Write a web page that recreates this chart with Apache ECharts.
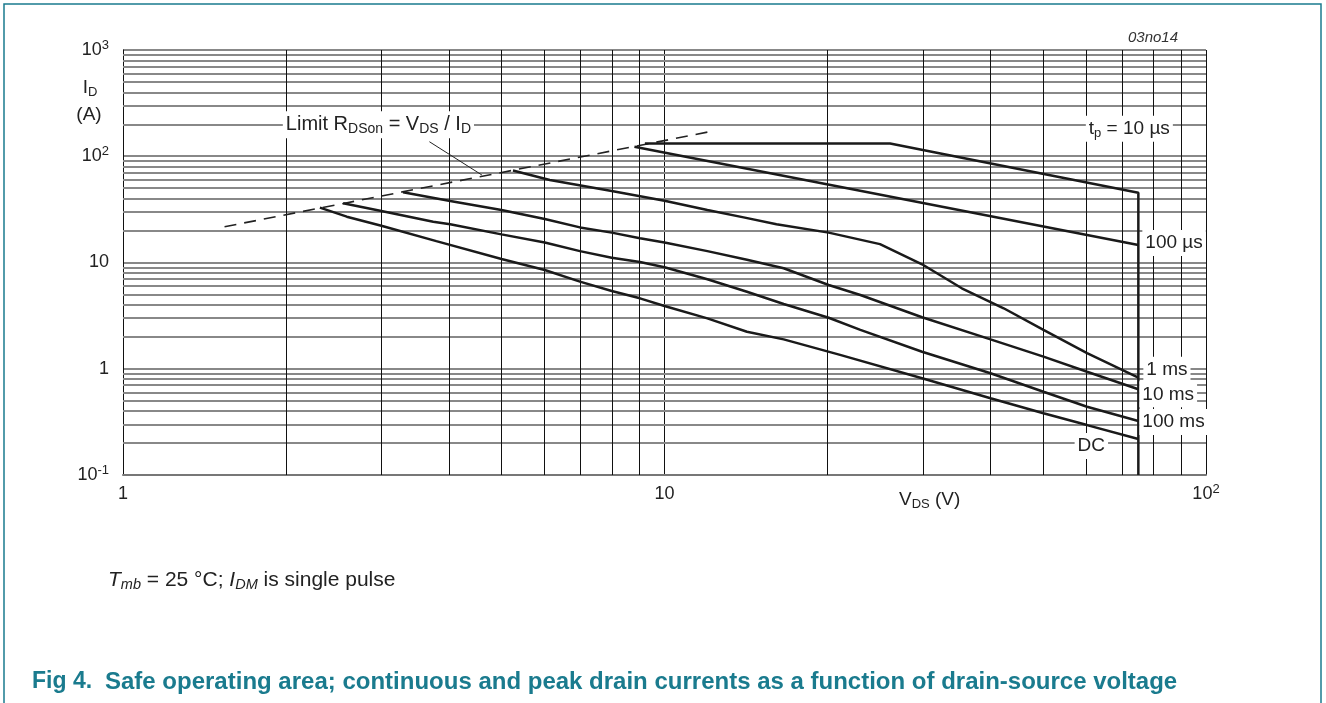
<!DOCTYPE html>
<html><head><meta charset="utf-8">
<script src="https://cdn.jsdelivr.net/npm/echarts@6/dist/echarts.min.js"></script>
<style>html,body{margin:0;padding:0;background:#fff;}#chart{width:1326px;height:703px;}</style>
</head><body><div id="chart"></div>
<script>
// ---- data (V_DS in V, I_D in A) ----
const limitLine = [[1.54, 21.7], [12.1, 170]];
const leaderLine = [[3.68, 137], [4.6, 66.6]];
const tp10us = [[9.2, 132], [26.1, 132], [75, 45.4], [75, 0.1]];
const tp100us = [[8.8, 123], [75, 14.6]];
const tp1ms = [[5.25,73.4],[6.14,59.8],[7.99,47.1],[10.0,38.2],[12.0,31.2],[14.0,26.6],[16.1,22.9],[20.1,19.1],[25.0,14.9],[29.9,9.62],[35.4,5.72],[42.3,3.71],[50.1,2.32],[60.3,1.40],[75,0.824]];
const tp10ms = [[3.29,45.8],[4.02,37.9],[5.00,31.2],[6.01,25.7],[6.98,21.4],[7.99,19.1],[9.01,16.9],[10.0,15.4],[12.0,12.8],[14.2,10.6],[16.6,8.82],[20.1,6.14],[23.0,4.94],[29.9,3.05],[40.0,1.89],[50.1,1.30],[60.3,0.938],[75,0.641]];
const tp100ms = [[2.55,36.1],[3.00,30.5],[3.74,24.2],[4.02,22.9],[5.00,18.4],[6.01,15.4],[6.98,12.8],[7.99,11.1],[9.01,10.1],[10.0,9.01],[12.0,6.95],[14.2,5.31],[16.6,4.07],[20.1,3.02],[23.0,2.32],[29.9,1.447],[40.0,0.906],[50.1,0.608],[60.3,0.439],[75,0.322]];
const tpDC = [[2.31,32.8],[2.59,27.0],[3.00,22.2],[3.79,15.9],[5.00,10.8],[6.01,8.50],[6.98,6.60],[7.99,5.39],[9.01,4.60],[10.0,3.90],[12.0,2.98],[14.2,2.23],[16.6,1.89],[21.1,1.35],[29.9,0.813],[40.0,0.527],[50.1,0.381],[60.3,0.295],[75,0.218]];
const xTickLabels = ['{b|1}', '{b|10}', '{b|10}{p|2}'];
const yTickLabels = ['{b|10}{p|-1}', '{b|1}', '{b|10}', '{b|10}{p|2}', '{b|10}{p|3}'];
const gridX = [2,3,4,5,6,7,8,9,20,30,40,50,60,70,80,90];
const gridY = [0.2,0.3,0.4,0.5,0.6,0.7,0.8,0.9,2,3,4,5,6,7,8,9,20,30,40,50,60,70,80,90,200,300,400,500,600,700,800,900];

const FONT = '"Liberation Sans", Arial, Helvetica, sans-serif';
const TEAL = '#1a7b8e';
const tickRich = {
  b: {fontSize: 18, fontFamily: FONT, color: '#222', lineHeight: 22},
  p: {fontSize: 13, fontFamily: FONT, color: '#222', verticalAlign: 'top', lineHeight: 13}
};

const chart = echarts.init(document.getElementById('chart'), null, {renderer: 'canvas'});
const curveStyle = {color: '#1a1a1a', width: 2.5};
function curve(name, data) {
  return {name, type: 'line', data, showSymbol: false, symbol: 'none', z: 5, silent: true,
    lineStyle: curveStyle, itemStyle: {color: '#1a1a1a'}};
}
chart.setOption({
  animation: false,
  grid: {left: 123, right: 120, top: 50, bottom: 228},
  xAxis: {type: 'log', logBase: 10, min: 1, max: 100,
    axisLine: {show: true, lineStyle: {color: '#777', width: 2}},
    axisTick: {show: false},
    splitLine: {show: true, lineStyle: {color: '#111', width: 1}},
    axisLabel: {margin: 8, rich: tickRich,
      formatter: v => xTickLabels[Math.round(Math.log10(v))]}
  },
  yAxis: {type: 'log', logBase: 10, min: 0.1, max: 1000,
    axisLine: {show: true, lineStyle: {color: '#111', width: 1}},
    axisTick: {show: false},
    splitLine: {show: true, lineStyle: {color: '#888', width: 2}},
    axisLabel: {margin: 14, rich: tickRich,
      formatter: v => yTickLabels[Math.round(Math.log10(v)) + 1]}
  },
  series: [
    {type: 'line', data: [], z: 1, silent: true,
      markLine: {silent: true, symbol: ['none', 'none'], label: {show: false}, animation: false,
        lineStyle: {color: '#888', width: 2, type: 'solid'},
        data: gridY.map(v => ({yAxis: v}))}},
    {type: 'line', data: [], z: 2, silent: true,
      markLine: {silent: true, symbol: ['none', 'none'], label: {show: false}, animation: false,
        lineStyle: {color: '#111', width: 1, type: 'solid'},
        data: gridX.map(v => ({xAxis: v}))}},
    {name: 'limit', type: 'line', data: limitLine, showSymbol: false, symbol: 'none', z: 5, silent: true,
      lineStyle: {color: '#222', width: 1.6, type: [12, 8]}},
    {name: 'leader', type: 'line', data: leaderLine, showSymbol: false, symbol: 'none', z: 5, silent: true,
      lineStyle: {color: '#222', width: 1}},
    curve('10us', tp10us),
    curve('100us', tp100us),
    curve('1ms', tp1ms),
    curve('10ms', tp10ms),
    curve('100ms', tp100ms),
    curve('DC', tpDC)
  ]
});

const P = d => chart.convertToPixel({gridIndex: 0}, d);
function mkRich(big, small) {
  return {
    n: {fontSize: big, fontFamily: FONT, fill: '#222', lineHeight: big + 3},
    s: {fontSize: small, fontFamily: FONT, fill: '#222', verticalAlign: 'bottom', lineHeight: small},
    i: {fontSize: big, fontFamily: FONT, fontStyle: 'italic', fill: '#222', lineHeight: big + 3},
    is: {fontSize: small, fontFamily: FONT, fontStyle: 'italic', fill: '#222', verticalAlign: 'bottom', lineHeight: small}
  };
}
const annRich = mkRich(19, 13);
function txt(x, y, text, align, opts) {
  opts = opts || {};
  return {type: 'text', x, y, z: 50, silent: true,
    style: Object.assign({text, rich: opts.rich || annRich, align: align || 'left', verticalAlign: 'middle',
      fill: '#222', font: '19px ' + FONT}, opts.style || {})};
}
const boxed = {backgroundColor: '#fff', padding: [2, 3, 2, 3]};
const lastOf = a => a[a.length - 1];
const pLead = P(leaderLine[0]);
const pTp = P(tp10us[2]);
const p100us = P(lastOf(tp100us));
const p1ms = P(lastOf(tp1ms));
const p10ms = P(lastOf(tp10ms));
const p100ms = P(lastOf(tp100ms));
const pDC = P(lastOf(tpDC));

chart.setOption({graphic: [
  {type: 'rect', z: 0, silent: true, shape: {x: 4, y: 4, width: 1317, height: 800},
    style: {fill: 'none', stroke: TEAL, lineWidth: 1.5}},
  txt(pLead[0] - 51, pLead[1] - 17, '{n|Limit R}{s|DSon}{n| = V}{s|DS}{n| / I}{s|D}', 'center', {style: boxed, rich: mkRich(20, 14)}),
  txt(pTp[0] - 9, pTp[1] - 64, '{n|t}{s|p}{n| = 10 µs}', 'center', {style: boxed}),
  txt(p100us[0] + 4, p100us[1] - 2, '{n|100 µs}', 'left', {style: boxed}),
  txt(p1ms[0] + 5, p1ms[1] - 8, '{n|1 ms}', 'left', {style: boxed}),
  txt(p10ms[0] + 1, p10ms[1] + 5, '{n|10 ms}', 'left', {style: boxed}),
  txt(p100ms[0] + 1, p100ms[1] + 1, '{n|100 ms}', 'left', {style: boxed}),
  txt(pDC[0] - 47, pDC[1] + 7, '{n|DC}', 'center', {style: boxed}),
  txt(1178, 38, '03no14', 'right', {rich: {}, style: {font: 'italic 15px ' + FONT, fill: '#333'}}),
  txt(90, 88, '{n|I}{s|D}', 'center'),
  txt(89, 115, '{n|(A)}', 'center'),
  txt(899, 500, '{n|V}{s|DS}{n| (V)}', 'left'),
  txt(108, 580, '{i|T}{is|mb}{n| = 25 °C; }{i|I}{is|DM}{n| is single pulse}', 'left', {rich: mkRich(21, 14.5)}),
  txt(32, 682, 'Fig 4.', 'left', {rich: {}, style: {font: 'bold 23px ' + FONT, fill: TEAL}}),
  txt(105, 682, 'Safe operating area; continuous and peak drain currents as a function of drain-source voltage', 'left',
    {rich: {}, style: {font: 'bold 24px ' + FONT, fill: TEAL}})
]});
</script>
</body></html>
